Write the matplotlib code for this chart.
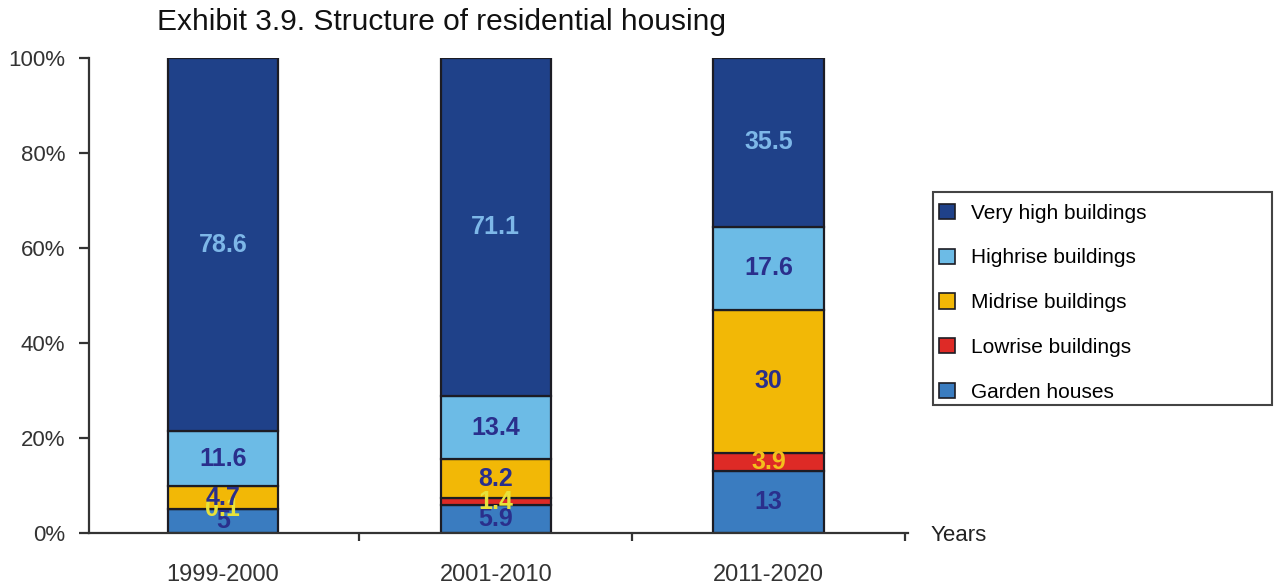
import numpy as np
import matplotlib.pyplot as plt
from matplotlib.patches import Rectangle

plt.rcParams['font.family'] = ['Liberation Sans', 'DejaVu Sans']

periods = ['1999-2000', '2001-2010', '2011-2020']
garden = [5, 5.9, 13]
lowrise = [0.1, 1.4, 3.9]
midrise = [4.7, 8.2, 30]
highrise = [11.6, 13.4, 17.6]
veryhigh = [78.6, 71.1, 35.5]

series = [
    ('Garden houses', garden, '#3a7cc0', '#2a2f8c'),
    ('Lowrise buildings', lowrise, '#de2a26', '#e8e23a'),
    ('Midrise buildings', midrise, '#f2b806', '#2a2f8c'),
    ('Highrise buildings', highrise, '#6cbbe6', '#2a2f8c'),
    ('Very high buildings', veryhigh, '#1f4189', '#7db7e8'),
]

fig = plt.figure(figsize=(12.74, 5.85), dpi=100)
ax = fig.add_axes([0.0699, 0.0889, 0.6428, 0.812])

x = np.arange(len(periods))
bottom = np.zeros(len(periods))
handles = {}
for name, vals, col, txtcol in series:
    vals = np.array(vals, dtype=float)
    bars = ax.bar(x, vals, width=0.405, bottom=bottom, color=col,
                  edgecolor='#1c1c24', linewidth=1.6, label=name)
    handles[name] = bars
    for xi, b, v in zip(x, bottom, vals):
        c = txtcol
        if name == 'Lowrise buildings' and v > 3:
            c = '#f4bf1c'
        ax.text(xi, b + v / 2, '%g' % v, ha='center', va='center',
                fontsize=18, fontweight='bold', color=c)
    bottom += vals

ax.set_xlim(-0.49, 2.51)
ax.set_ylim(0, 100)
ax.spines['top'].set_visible(False)
ax.spines['right'].set_visible(False)
for s in ('left', 'bottom'):
    ax.spines[s].set_color('#333333')
    ax.spines[s].set_linewidth(1.6)

ax.set_yticks([0, 20, 40, 60, 80, 100])
ax.set_yticklabels(['0%', '20%', '40%', '60%', '80%', '100%'])
ax.tick_params(axis='y', direction='out', length=7, width=1.6,
               color='#333333', labelsize=16, labelcolor='#333333', pad=10)

ax.set_xticks([0.5, 1.5, 2.5])
ax.set_xticklabels([])
ax.tick_params(axis='x', direction='out', length=6, width=1.6, color='#333333')
ax.set_xticks(x, minor=True)
ax.set_xticklabels(periods, minor=True)
ax.tick_params(axis='x', which='minor', length=0, pad=22,
               labelsize=17, labelcolor='#333333')

fig.text(0.730, 0.084, 'Years', fontsize=16, color='#222222', va='center')
fig.text(0.123, 0.962, 'Exhibit 3.9. Structure of residential housing',
         fontsize=21.5, color='#111111', va='center')

# legend box drawn separately so it can be wider than the entries
fig.patches.append(Rectangle((0.7323, 0.3077), 0.2661, 0.3641,
                             transform=fig.transFigure, fill=False,
                             edgecolor='#444444', linewidth=1.5))
order = ['Very high buildings', 'Highrise buildings', 'Midrise buildings',
         'Lowrise buildings', 'Garden houses']
leg = fig.legend([handles[n] for n in order], order,
                 loc='upper left', bbox_to_anchor=(0.737, 0.652),
                 fontsize=15, frameon=False,
                 handlelength=0.75, handleheight=0.75, handletextpad=0.8,
                 labelspacing=1.24, borderpad=0, borderaxespad=0)
for h in leg.legend_handles:
    h.set_linewidth(1.2)

fig.savefig('out.png', dpi=100)
